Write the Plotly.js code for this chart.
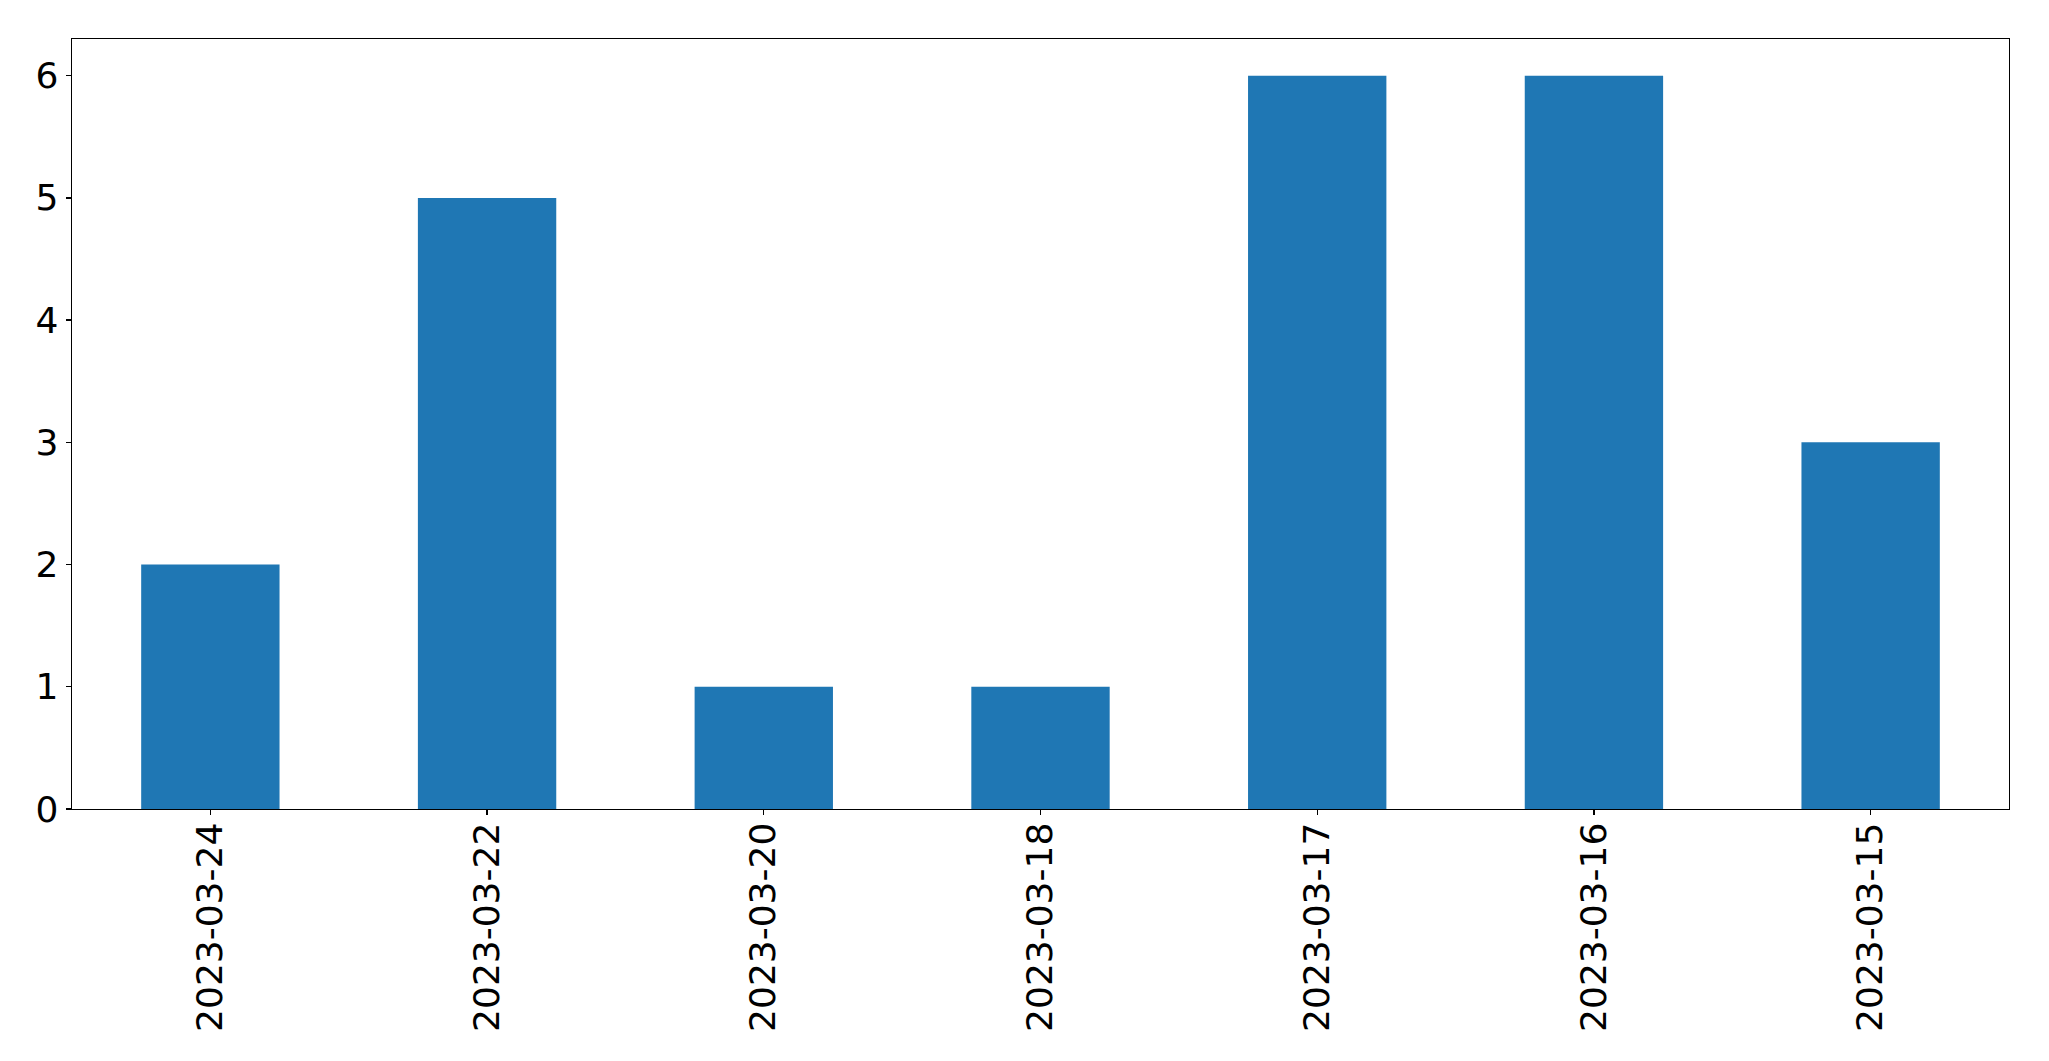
<!DOCTYPE html>
<html>
<head>
<meta charset="utf-8">
<script src="https://cdn.plot.ly/plotly-3.0.1.min.js"></script>
<style>html,body{margin:0;padding:0;background:#fff;}#chart{width:2049px;height:1061px;}</style>
</head>
<body>
<div id="chart"></div>
<script>
const categories = ["2023-03-24", "2023-03-22", "2023-03-20", "2023-03-18", "2023-03-17", "2023-03-16", "2023-03-15"];
const counts = [2, 5, 1, 1, 6, 6, 3];
const yTicks = [0, 1, 2, 3, 4, 5, 6];

const trace = {
  type: "bar",
  x: categories,
  y: counts,
  width: 0.5,
  marker: {color: "#1f77b4", line: {width: 0}},
  hoverinfo: "x+y"
};

const font = {family: "DejaVu Sans, sans-serif", size: 36, color: "#000"};

const layout = {
  width: 2049,
  height: 1061,
  margin: {l: 72, r: 40, t: 39, b: 252, pad: 0},
  paper_bgcolor: "#fff",
  plot_bgcolor: "#fff",
  showlegend: false,
  font: font,
  xaxis: {
    type: "category",
    range: [-0.5, 6.5],
    tickangle: -90,
    ticks: "outside",
    ticklen: 5,
    tickwidth: 1.3,
    tickcolor: "#000",
    ticklabelstandoff: -7,
    showline: true,
    mirror: true,
    linecolor: "#000",
    linewidth: 1.3,
    showgrid: false,
    zeroline: false,
    tickfont: font,
    fixedrange: true
  },
  yaxis: {
    range: [0, 6.3],
    tickvals: yTicks,
    ticktext: yTicks.map(String),
    ticks: "outside",
    ticklen: 5,
    tickwidth: 1.3,
    tickcolor: "#000",
    showline: true,
    mirror: true,
    linecolor: "#000",
    linewidth: 1.3,
    showgrid: false,
    zeroline: false,
    tickfont: font,
    fixedrange: true
  }
};

Plotly.newPlot("chart", [trace], layout, {displayModeBar: false, staticPlot: true});
</script>
</body>
</html>
